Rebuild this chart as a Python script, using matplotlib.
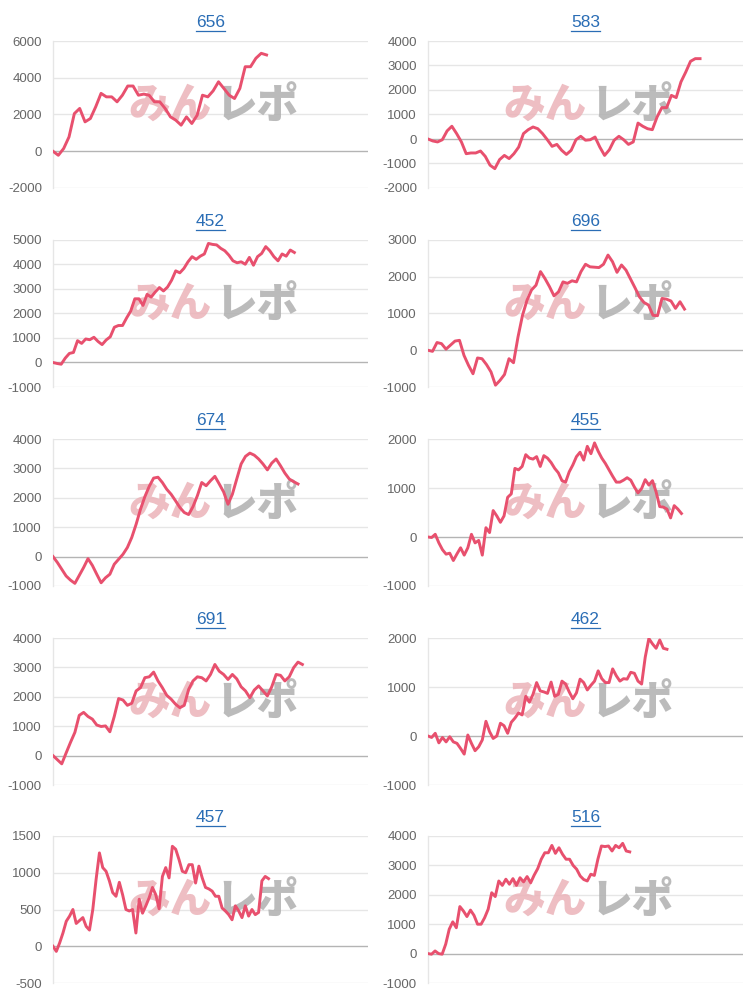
"""Cumulative result charts for ten machines, 5x2 grid."""
import matplotlib
matplotlib.use("Agg")
import matplotlib.pyplot as plt
from matplotlib.lines import Line2D
import numpy as np

plt.rcParams['font.family'] = ['Liberation Sans', 'Noto Sans CJK JP', 'DejaVu Sans']

# machine numbers (panel titles), in reading order
titles = ['656', '583', '452', '696', '674', '455', '691', '462', '457', '516']

# cumulative results per machine
s656 = [0, -220, 150, 780, 2050, 2330, 1600, 1780, 2420, 3150, 2960, 2960, 2690,
        3050, 3550, 3550, 3050, 3110, 3050, 2690, 2690, 2330, 1870, 1690, 1420,
        1870, 1510, 1960, 3050, 2960, 3290, 3780, 3420, 3050, 2870, 3420, 4600,
        4600, 5060, 5330, 5240]
s583 = [0, -80, -120, -30, 330, 520, 220, -120, -600, -570, -570, -490, -710,
        -1070, -1210, -840, -670, -800, -600, -330, 220, 380, 490, 420, 220, -30,
        -300, -220, -460, -630, -460, -30, 110, -50, -30, 80, -330, -670, -440,
        -50, 110, -30, -220, -120, 650, 520, 420, 380, 900, 1280, 1280, 1780,
        1690, 2330, 2730, 3170, 3280, 3280]
s452 = [0, -40, -70, 180, 370, 410, 890, 780, 960, 930, 1030, 860, 730, 920,
        1050, 1440, 1510, 1510, 1820, 2100, 2600, 2600, 2330, 2780, 2670, 2880,
        3060, 2920, 3080, 3360, 3740, 3660, 3840, 4110, 4320, 4210, 4340, 4430,
        4860, 4820, 4800, 4660, 4560, 4380, 4150, 4070, 4110, 4010, 4290, 3970,
        4320, 4450, 4730, 4560, 4320, 4150, 4430, 4340, 4590, 4490]
s696 = [0, -30, 210, 180, 30, 140, 250, 270, -140, -410, -640, -210, -230, -390,
        -590, -950, -820, -660, -230, -340, 360, 950, 1360, 1640, 1770, 2140,
        1950, 1730, 1480, 1590, 1860, 1820, 1890, 1860, 2140, 2340, 2270, 2260,
        2250, 2340, 2590, 2410, 2120, 2320, 2180, 1940, 1700, 1450, 1300, 1230,
        950, 940, 1410, 1390, 1340, 1140, 1320, 1120]
s674 = [0, -200, -430, -660, -800, -910, -640, -370, -70, -300, -600, -890, -720,
        -600, -260, -90, 80, 310, 650, 1100, 1610, 2040, 2390, 2670, 2700, 2520,
        2290, 2120, 1900, 1670, 1500, 1430, 1700, 2070, 2520, 2410, 2580, 2730,
        2470, 2200, 1780, 2120, 2640, 3150, 3410, 3520, 3450, 3320, 3150, 2950,
        3180, 3320, 3090, 2840, 2640, 2550, 2470]
s455 = [0, -10, 55, -120, -260, -350, -330, -480, -345, -220, -370, -220, 55,
        -120, -70, -370, 190, 90, 540, 430, 300, 430, 810, 880, 1400, 1370, 1440,
        1680, 1610, 1590, 1640, 1440, 1660, 1610, 1520, 1400, 1310, 1150, 1120,
        1330, 1470, 1640, 1730, 1570, 1850, 1700, 1920, 1750, 1610, 1500, 1370,
        1240, 1120, 1120, 1160, 1210, 1160, 1020, 900, 990, 1170, 1060, 1150, 920,
        620, 610, 570, 390, 640, 570, 480]
s691 = [0, -140, -280, 90, 450, 790, 1370, 1470, 1330, 1240, 1040, 990, 1010,
        810, 1330, 1940, 1890, 1710, 1780, 2200, 2310, 2650, 2680, 2840, 2540,
        2310, 2050, 1920, 1750, 1630, 1710, 2250, 2540, 2680, 2650, 2540, 2760,
        3100, 2870, 2760, 2590, 2760, 2610, 2340, 2200, 1970, 2230, 2370, 2200,
        2030, 2340, 2760, 2730, 2540, 2680, 2990, 3180, 3100]
s462 = [0, -30, 55, -140, -30, -120, -15, -120, -150, -255, -370, 20, -150, -300,
        -220, -80, 300, 90, -50, 0, 260, 210, 55, 280, 365, 470, 430, 810, 690,
        850, 1090, 920, 900, 870, 1100, 810, 850, 1120, 1060, 900, 760, 880, 1160,
        1090, 940, 1035, 1120, 1330, 1170, 1090, 1090, 1370, 1230, 1120, 1170,
        1160, 1300, 1280, 1120, 1060, 1610, 1990, 1880, 1790, 1960, 1790, 1770]
s457 = [0, -70, 45, 180, 340, 410, 500, 310, 350, 390, 270, 220, 500, 910, 1270,
        1070, 1020, 890, 730, 680, 870, 700, 500, 480, 500, 180, 640, 450, 550,
        660, 800, 700, 510, 950, 1070, 930, 1360, 1320, 1180, 1020, 1000, 1110,
        1110, 860, 1090, 930, 800, 780, 750, 680, 680, 520, 480, 430, 360, 550,
        480, 390, 550, 410, 500, 430, 460, 890, 950, 920]
s516 = [0, -20, 90, 0, -20, 320, 830, 1080, 880, 1600, 1450, 1260, 1480, 1300,
        1000, 1000, 1220, 1510, 2070, 1940, 2470, 2320, 2530, 2360, 2550, 2320,
        2580, 2440, 2620, 2410, 2670, 2890, 3210, 3430, 3430, 3680, 3410, 3600,
        3380, 3210, 3210, 3000, 2870, 2640, 2520, 2470, 2700, 2660, 3210, 3660,
        3640, 3660, 3490, 3680, 3600, 3750, 3490, 3460]

series = [s656, s583, s452, s696, s674, s455, s691, s462, s457, s516]

# number of day labels on each x axis
n_labels = [60, 67, 78, 71, 73, 88, 73, 88, 96, 90]

# y axis range and tick step per panel
y_min = [-2000, -2000, -1000, -1000, -1000, -1000, -1000, -1000, -500, -1000]
y_max = [6000, 4000, 5000, 3000, 4000, 2000, 4000, 2000, 1500, 4000]
y_step = [2000, 1000, 1000, 1000, 1000, 1000, 1000, 1000, 500, 1000]

line_color = '#e8506e'
grid_color = '#e6e6e6'
zero_color = '#b4b4b4'
tick_color = '#666666'
title_color = '#2a6db5'

fig = plt.figure(figsize=(7.5, 9.96), dpi=100)

col_left = [53 / 750, 428 / 750]
ax_w = 315 / 750
ax_h = 147 / 996
row_bottom = [1 - 188 / 996, 1 - 387 / 996, 1 - 586 / 996, 1 - 785 / 996,
              1 - 983 / 996]

title_objs = []
for i, vals in enumerate(series):
    row, col = divmod(i, 2)
    ax = fig.add_axes([col_left[col], row_bottom[row], ax_w, ax_h])

    x = np.arange(len(vals))
    ax.plot(x, vals, color=line_color, lw=2.1, solid_joinstyle='round',
            zorder=3)

    ax.set_xlim(0, n_labels[i] - 1)
    ax.set_ylim(y_min[i], y_max[i])
    ticks = np.arange(y_min[i], y_max[i] + 1, y_step[i])
    ax.set_yticks(ticks)
    ax.set_yticklabels([str(t) for t in ticks])
    ax.set_xticks([])

    for t in ticks:
        ax.axhline(t, color=zero_color if t == 0 else grid_color,
                   lw=1.0, zorder=1)

    for side in ['top', 'right', 'bottom']:
        ax.spines[side].set_visible(False)
    ax.spines['left'].set_color(grid_color)
    ax.spines['left'].set_linewidth(1.0)
    ax.tick_params(axis='y', length=0, pad=8, labelsize=9.5,
                   labelcolor=tick_color)

    # watermark
    ax.text(0.505, 0.56, 'みん', transform=ax.transAxes, ha='right',
            va='center', fontsize=30, fontweight='heavy', color='#ebb3b9',
            family=['Noto Sans CJK JP'], alpha=0.85, zorder=2)
    ax.text(0.515, 0.56, 'レポ', transform=ax.transAxes, ha='left',
            va='center', fontsize=30, fontweight='heavy', color='#b0b0b0',
            family=['Noto Sans CJK JP'], alpha=0.85, zorder=2)

    title_objs.append(ax.set_title(titles[i], fontsize=12.5,
                                   color=title_color, pad=10))

# underline the titles (they are links in the original page)
fig.canvas.draw()
inv = fig.transFigure.inverted()
for t in title_objs:
    bb = t.get_window_extent()
    (x0, y0), (x1, _) = inv.transform([(bb.x0, bb.y0 - 1), (bb.x1, bb.y0)])
    fig.add_artist(Line2D([x0, x1], [y0, y0], transform=fig.transFigure,
                          color=title_color, lw=0.9))

fig.savefig('out.png', dpi=100, facecolor='white')
